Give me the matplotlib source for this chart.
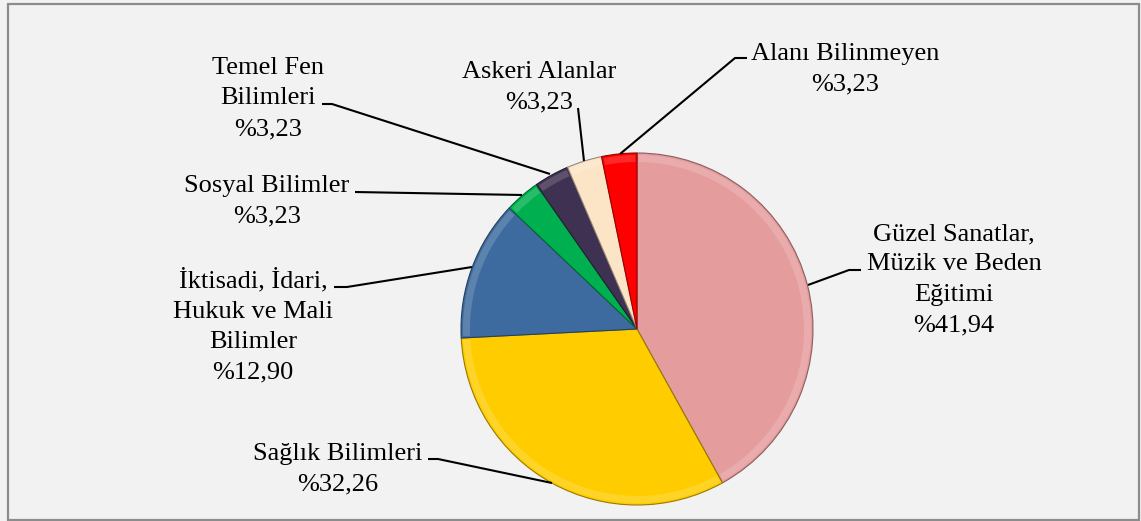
import matplotlib.pyplot as plt
from matplotlib.patches import Rectangle, Wedge
import matplotlib.colors as mcolors

# data, clockwise from 12 o'clock
labels = ['Güzel Sanatlar,\nMüzik ve Beden\nEğitimi', 'Sağlık Bilimleri',
          'İktisadi, İdari,\nHukuk ve Mali\nBilimler', 'Sosyal Bilimler',
          'Temel Fen\nBilimleri', 'Askeri Alanlar', 'Alanı Bilinmeyen']
values = [41.94, 32.26, 12.90, 3.23, 3.23, 3.23, 3.23]
colors = ['#E59C9C', '#FFCC00', '#3E6B9F', '#00B050', '#3F3151', '#FCE4C6', '#FF0000']

W, H = 1141, 521
cx, cy, R = 637, 329, 176

# label anchor (center x, first baseline y) and leader points, in pixels from top-left
text_pos = [(954, 240), (338, 460), (253, 287), (267, 192), (268, 74), (539, 78), (845, 60)]
leaders = [
    [(861, 270), (849, 270), (808, 285)],
    [(428, 459), (438, 459), (552, 483)],
    [(334, 287), (347, 287), (472, 267)],
    [(355, 192), (522, 195)],
    [(322, 104), (332, 104), (550, 174)],
    [(578, 108), (584, 161)],
    [(747, 58), (735, 58), (620, 154)],
]
line_gap = 30.5

plt.rcParams['font.family'] = ['Liberation Serif', 'DejaVu Serif']

fig = plt.figure(figsize=(W / 100, H / 100), dpi=100)
fig.patch.set_facecolor('#F2F2F2')
ax = fig.add_axes([0, 0, 1, 1])
ax.set_xlim(0, W)
ax.set_ylim(H, 0)
ax.axis('off')

# pie (y axis is inverted, so counter-clockwise in data = clockwise on screen)
total = sum(values)
start = -90.0
for v, c in zip(values, colors):
    sweep = v / total * 360
    rgb = mcolors.to_rgb(c)
    dark = tuple(x * 0.6 for x in rgb)
    light = tuple(x + (1 - x) * 0.35 for x in rgb)
    ax.add_patch(Wedge((cx, cy), R, start, start + sweep, facecolor=c,
                       edgecolor=dark, linewidth=0.8, zorder=2))
    # soft bevel along the rim
    ax.add_patch(Wedge((cx, cy), R - 2, start + 0.6, start + sweep - 0.6, width=7,
                       facecolor=light, edgecolor='none', alpha=0.45, zorder=3))
    start += sweep

# labels
for lab, v, (tx, ty) in zip(labels, values, text_pos):
    lines = lab.split('\n') + ['%' + f'{v:.2f}'.replace('.', ',')]
    for i, s in enumerate(lines):
        ax.text(tx, ty + i * line_gap, s, ha='center', va='baseline',
                fontsize=19, color='black', zorder=5)

for pts in leaders:
    xs = [p[0] for p in pts]
    ys = [p[1] for p in pts]
    ax.plot(xs, ys, color='black', linewidth=1.5, zorder=4, solid_capstyle='butt')

# outer frame
ax.add_patch(Rectangle((8, 4), 1131, 516, fill=False, edgecolor='#8C8C8C',
                       linewidth=1.6, zorder=6))

fig.savefig('out.png', dpi=100, facecolor=fig.get_facecolor())
